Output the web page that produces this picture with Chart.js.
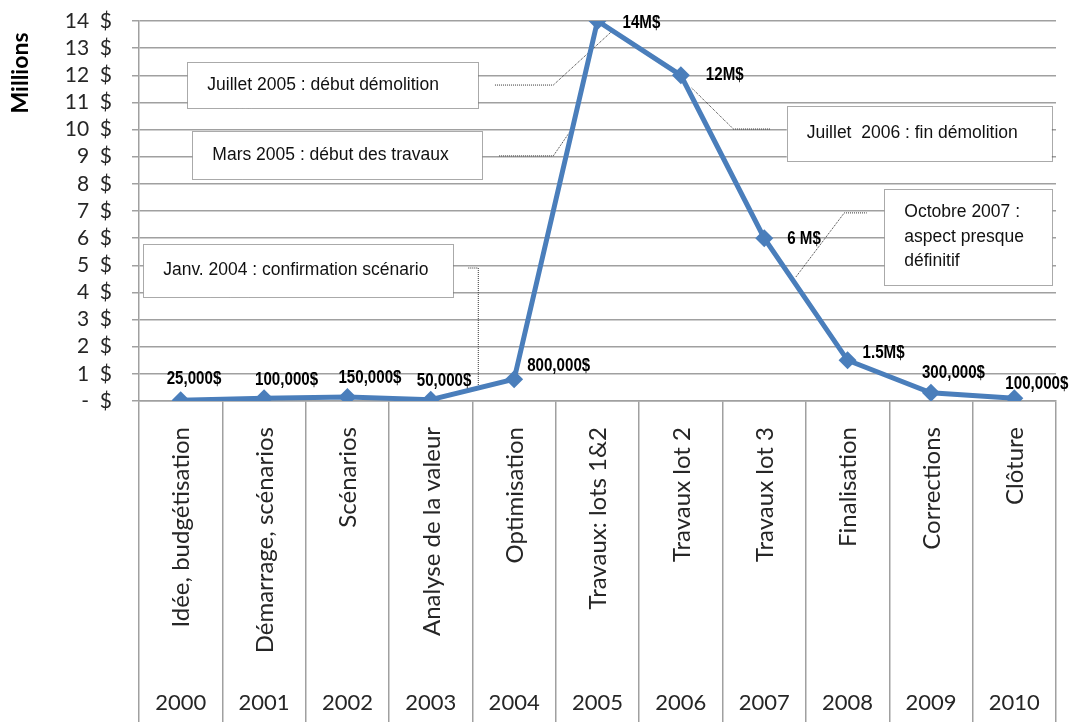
<!DOCTYPE html>
<html lang="fr">
<head>
<meta charset="utf-8">
<title>Coûts du projet par année</title>
<script src="https://cdn.jsdelivr.net/npm/chart.js@4.4.1/dist/chart.umd.min.js"></script>
<style>
  html, body { margin: 0; padding: 0; background: #fff; }
  #wrap { width: 1069px; height: 722px; position: relative; }
</style>
</head>
<body>
<div id="wrap"><canvas id="chart"></canvas></div>
<script>
// data
const years = ['2000', '2001', '2002', '2003', '2004', '2005', '2006', '2007', '2008', '2009', '2010'];
const phases = ['Idée, budgétisation', 'Démarrage, scénarios', 'Scénarios', 'Analyse de la valeur',
  'Optimisation', 'Travaux: lots 1&2', 'Travaux lot 2', 'Travaux lot 3', 'Finalisation',
  'Corrections', 'Clôture'];
const costMillions = [0.025, 0.1, 0.15, 0.05, 0.8, 14, 12, 6, 1.5, 0.3, 0.1];
const costLabels = ['25,000$', '100,000$', '150,000$', '50,000$', '800,000$', '14M$', '12M$',
  '6 M$', '1.5M$', '300,000$', '100,000$'];
const yTickLabels = ['-  $', '1  $', '2  $', '3  $', '4  $', '5  $', '6  $', '7  $', '8  $',
  '9  $', '10  $', '11  $', '12  $', '13  $', '14  $'];

// callouts, placed in data units (category index, millions)
const callouts = [
  { lines: ['Juillet 2005 : début démolition'], box: [0.08, 3.57, 12.49, 10.8],
    leader: [[3.77, 11.64], [4.47, 11.64], [5.19, 13.67]] },
  { lines: ['Mars 2005 : début des travaux'], box: [0.14, 3.62, 9.95, 8.18],
    leader: [[3.82, 9.03], [4.47, 9.03], [4.74, 10.24]] },
  { lines: ['Juillet  2006 : fin démolition'], box: [7.27, 10.45, 10.87, 8.84],
    leader: [[6.13, 11.53], [6.63, 10.02], [7.07, 10.02]] },
  { lines: ['Octobre 2007 :', 'aspect presque', 'définitif'], box: [8.44, 10.46, 7.81, 4.27],
    leader: [[7.38, 4.57], [7.96, 6.93], [8.23, 6.93]] },
  { lines: ['Janv. 2004 : confirmation scénario'], box: [-0.45, 3.27, 5.78, 3.83],
    leader: [[3.45, 4.9], [3.57, 4.9], [3.57, 0.52]] }
];

// label offsets from each point (px): left edge, vertical centre
const labelOffsets = [[-14, -21], [-9, -18], [-9, -19], [-14, -19], [13, -13], [25, 2],
  [25, 0], [23, 1], [15, -7], [-9, -20], [-9, -14]];

const lineBlue = '#4a7ebb';
const gridGray = '#a0a0a0';
const textDark = '#262626';

function catX(chart, i) {
  const a = chart.chartArea;
  return a.left + (i + 0.5) * (a.right - a.left) / phases.length;
}

const calloutPlugin = {
  id: 'callouts',
  beforeDatasetsDraw(chart) {
    const ctx = chart.ctx;
    const ys = chart.scales.y;
    ctx.save();
    callouts.forEach(c => {
      const x0 = catX(chart, c.box[0]), x1 = catX(chart, c.box[1]);
      const y0 = ys.getPixelForValue(c.box[2]), y1 = ys.getPixelForValue(c.box[3]);
      ctx.fillStyle = '#fff';
      ctx.fillRect(x0, y0, x1 - x0, y1 - y0);
      ctx.setLineDash([1, 1]);
      ctx.strokeStyle = '#555';
      ctx.lineWidth = 1;
      ctx.strokeRect(Math.round(x0) + 0.5, Math.round(y0) + 0.5, Math.round(x1 - x0), Math.round(y1 - y0));
      ctx.beginPath();
      c.leader.forEach((p, k) => {
        const px = catX(chart, p[0]), py = ys.getPixelForValue(p[1]);
        if (k === 0) ctx.moveTo(px, py); else ctx.lineTo(px, py);
      });
      ctx.strokeStyle = '#333';
      ctx.stroke();
      ctx.setLineDash([]);
      ctx.fillStyle = '#111';
      ctx.font = '17.5px "Liberation Sans", Arial, sans-serif';
      ctx.textAlign = 'left';
      ctx.textBaseline = 'middle';
      const lh = 24.5;
      const mid = (y0 + y1) / 2;
      c.lines.forEach((t, k) => {
        ctx.fillText(t, x0 + 20, mid + (k - (c.lines.length - 1) / 2) * lh);
      });
    });
    ctx.restore();
  },
  afterDatasetsDraw(chart) {
    const ctx = chart.ctx;
    const pts = chart.getDatasetMeta(0).data;
    ctx.save();
    ctx.fillStyle = '#000';
    ctx.textAlign = 'left';
    ctx.textBaseline = 'middle';
    ctx.font = 'bold 18px "Liberation Sans", Arial, sans-serif';
    pts.forEach((p, i) => {
      const o = labelOffsets[i];
      // narrow bold look of the original
      ctx.save();
      ctx.translate(p.x + o[0], p.y + o[1]);
      ctx.scale(0.84, 1);
      ctx.fillText(costLabels[i], 0, 0);
      ctx.restore();
    });
    ctx.restore();
  },
  afterDraw(chart) {
    const ctx = chart.ctx;
    const xs = chart.scales.x;
    ctx.save();
    ctx.fillStyle = textDark;
    ctx.font = '24px Lato, "Open Sans", sans-serif';
    phases.forEach((name, i) => {
      const cx = xs.getPixelForValue(i);
      ctx.save();
      ctx.translate(cx + 1, xs.top + 26);
      ctx.rotate(-Math.PI / 2);
      ctx.textAlign = 'right';
      ctx.textBaseline = 'middle';
      ctx.fillText(name, 0, 0);
      ctx.restore();
    });
    ctx.font = '22px Lato, "Open Sans", sans-serif';
    ctx.textAlign = 'center';
    ctx.textBaseline = 'middle';
    years.forEach((y, i) => {
      ctx.fillText(y, xs.getPixelForValue(i), xs.top + 302);
    });
    // axis title
    ctx.font = 'bold 23px Lato, "Open Sans", sans-serif';
    ctx.translate(21, 73);
    ctx.rotate(-Math.PI / 2);
    ctx.fillStyle = '#000';
    ctx.fillText('Millions', 0, 0);
    ctx.restore();
  }
};

new Chart(document.getElementById('chart'), {
  type: 'line',
  data: {
    labels: phases,
    datasets: [{
      data: costMillions,
      borderColor: lineBlue,
      backgroundColor: lineBlue,
      borderWidth: 5,
      tension: 0,
      pointStyle: 'rectRot',
      pointRadius: 9,
      pointBorderWidth: 0,
      pointBackgroundColor: lineBlue
    }]
  },
  options: {
    responsive: true,
    maintainAspectRatio: false,
    animation: false,
    layout: { padding: { top: 21, right: 13, left: 0, bottom: 0 } },
    plugins: {
      legend: { display: false },
      tooltip: { enabled: false }
    },
    scales: {
      x: {
        offset: true,
        grid: {
          offset: true,
          drawOnChartArea: false,
          tickLength: 321,
          color: gridGray,
          lineWidth: 1.5
        },
        border: { color: gridGray, width: 1.5 },
        ticks: { display: false },
        afterFit(s) { s.height = 321; s.paddingLeft = 0; s.paddingRight = 0; }
      },
      y: {
        min: 0,
        max: 14,
        ticks: {
          stepSize: 1,
          autoSkip: false,
          padding: 20,
          color: textDark,
          font: { family: 'Lato, "Open Sans", sans-serif', size: 21 },
          callback: v => yTickLabels[v]
        },
        grid: { color: gridGray, lineWidth: 1.5, tickLength: 7 },
        border: { color: gridGray, width: 1.5 },
        afterFit(s) { s.width = 139; s.paddingTop = 0; s.paddingBottom = 0; }
      }
    }
  },
  plugins: [calloutPlugin]
});
</script>
</body>
</html>
